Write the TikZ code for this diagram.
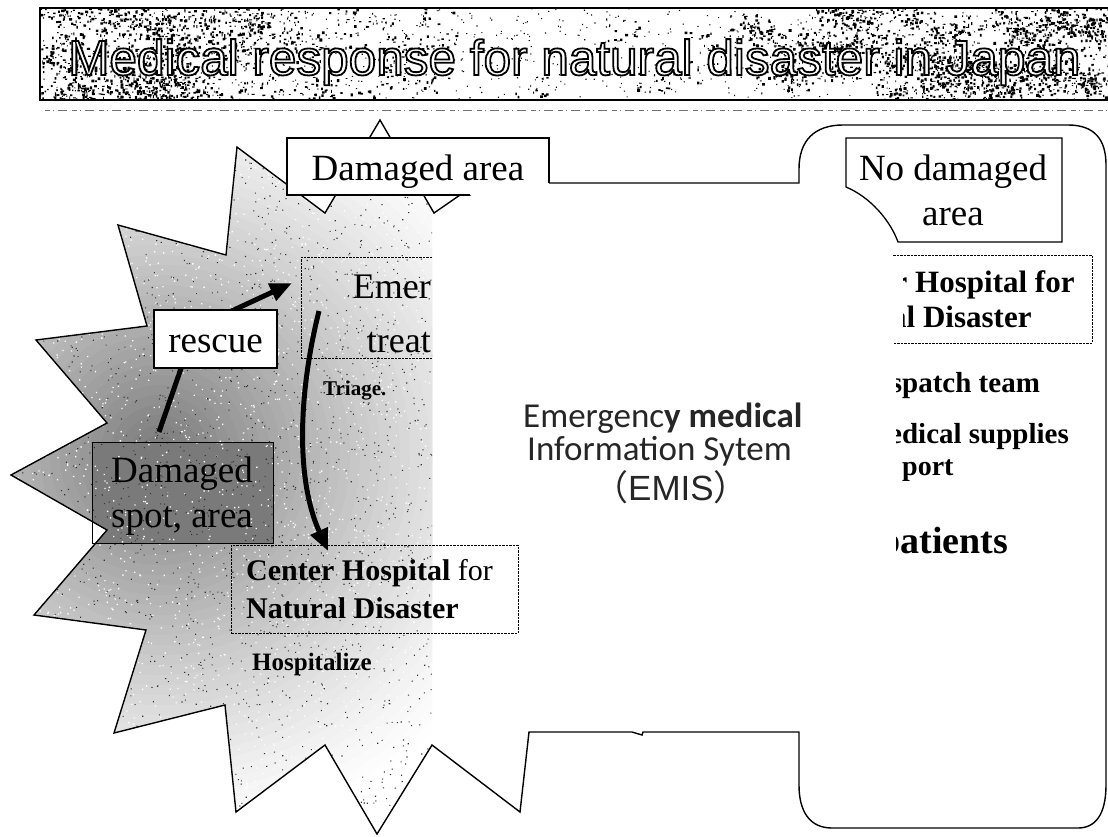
\documentclass[tikz,border=0pt]{standalone}
\usepackage{fontspec}
\setmainfont{Liberation Serif}
\newfontfamily\headfont[FakeBold=3.6]{Liberation Sans}
\newfontfamily\plainsans{Liberation Sans}
\newfontfamily\emisfont{Carlito}
\newfontfamily\cjkfont{Noto Sans CJK JP}
\usetikzlibrary{arrows.meta}

\tikzset{
  labelbox/.style={draw=black, line width=1.3pt, fill=white},
  bigtext/.style={font=\fontsize{37}{44}\selectfont, inner sep=0pt},
  dotbox/.style={draw=black, line width=0.9pt, dash pattern=on 2.5pt off 1pt},
  boldtext/.style={font=\bfseries\fontsize{#1}{#1}\selectfont, inner sep=0pt},
  flowarrow/.style={line width=5pt, -{Triangle[length=22pt,width=18pt]}},
  outline/.style={line width=1.4pt, line join=miter},
  emistext/.style={font=\emisfont\fontsize{35}{38}\selectfont, inner sep=0pt, text=black!85},
}

% outline of the burst, from the notch under the label round to the bottom line
\def\burstpath{(460,195) -- (434,213) -- (380,120) -- (325,213) -- (237,147)
  -- (226,255) -- (118,225) -- (147,326) -- (36,340) -- (107,423) -- (11,475)
  -- (107,530) -- (34,615) -- (146,630) -- (114,733) -- (225,705) -- (236,812)
  -- (325,745) -- (377,834) -- (432,745) -- (520,812) -- (529,732)}

\begin{document}
\begin{tikzpicture}[x=1pt,y=-1pt]
\useasboundingbox (0,0) rectangle (1108,836);

% ---------- title banner with grunge texture ----------
\begin{scope}
  \clip (40,8) rectangle (1108,100);
  \pgfmathsetseed{42}
  \foreach \cl in {1,...,230}{
    \pgfmathsetmacro{\rv}{rand}
    \pgfmathsetmacro{\cx}{574+534*((\rv<0)?-1:1)*abs(\rv)^0.4}
    \pgfmathsetmacro{\cy}{8+92*rnd}
    \fill[black] \foreach \j in {1,...,16}{
      ({\cx+17*rand},{\cy+11*rand}) rectangle ++({0.8+2.2*rnd},{0.8+2.2*rnd}) };
  }
  \foreach \ch in {1,...,8}{
    \fill[black] \foreach \j in {1,...,90}{
      ({40+1068*rnd},{8+92*rnd}) rectangle ++(1.1,1.1) };
  }
\end{scope}
\draw[line width=1.8pt] (1108,8) -- (40,8) -- (40,100) -- (1108,100);
% white letters with a black stroke (fill colour white, stroke colour black)
\node[anchor=base west, inner sep=0pt] (title) at (68,75)
  {\special{pdf:bcolor [1] [0]}\headfont\fontsize{49.5}{50}\selectfont
   Medical response for natural disaster in Japan\special{pdf:ecolor}};
\draw[black!55, line width=0.8pt,
      dash pattern=on 5pt off 3pt on 1pt off 4pt on 9pt off 5pt] (45,110) -- (1108,110);

% ---------- dusty fill of the damaged area ----------
\begin{scope}
  \clip (0,110) rectangle (432,836);
  \clip \burstpath -- (529,195) -- cycle;
  \foreach \k in {1,...,39}{
    \pgfmathsetmacro{\rad}{400-10*\k}
    \pgfmathsetmacro{\dk}{54*(1-\rad/400)^1.3}
    \fill[black!\dk] (160,455) circle[radius=\rad pt];
  }
  \fill[black!52] (92,442) rectangle (273,543);
  \pgfmathsetseed{11}
  \foreach \ch in {1,...,22}{
    \fill[white] \foreach \j in {1,...,100}{
      ({432*rnd},{120+716*rnd}) rectangle ++(1.3,1.3) };
  }
  \foreach \ch in {1,...,22}{
    \fill[black!80] \foreach \j in {1,...,100}{
      ({432*rnd},{120+716*rnd}) rectangle ++(1.1,1.1) };
  }
\end{scope}

% damaged spot box
\node[draw=black, line width=1pt, minimum width=181pt, minimum height=101pt,
      anchor=north west, inner sep=0pt] (spot) at (92,442) {};

% burst and the rounded outline of the undamaged side, one closed line
\draw[outline] \burstpath -- (632,732) -- (642,735) -- (643,732) -- (799,732)
  -- (799,785) .. controls (799,812) and (810,828) .. (832,828) -- (1078,828)
  .. controls (1095,828) and (1106,815) .. (1106,785) -- (1106,165)
  .. controls (1106,140) and (1095,125) .. (1068,125) -- (843,125)
  .. controls (815,125) and (799,140) .. (799,169) -- (799,183) -- (502,183)
  .. controls (490,183) and (482,190) .. (470,195) -- cycle;

% emergency treatment box, cut off on its right
\coordinate (emerTR) at (432,257);
\coordinate (emerBR) at (432,358);
\draw[dotbox] (emerTR) -- (301,257) -- (301,358) -- (emerBR);

% center hospital box in the damaged area
\node[dotbox, minimum width=287pt, minimum height=88pt, anchor=north west,
      inner sep=0pt] (chl) at (231,545) {};

% center hospital box in the undamaged area, cut off on its left
\coordinate (chrTL) at (893,255);
\coordinate (chrBL) at (893,343);
\draw[dotbox] (chrTL) -- (1092,255) -- (1092,343) -- (chrBL);

% arrows
\coordinate (rescueStart) at (159,432);
\coordinate (rescueBend) at (195,328);
\coordinate (rescueEnd) at (292,283);
\draw[flowarrow] (rescueStart) -- (rescueBend) -- (rescueEnd);
\coordinate (moveStart) at (319,311);
\coordinate (moveEnd) at (328,551);
\draw[flowarrow] (moveStart) .. controls (298,395) and (296,480) .. (moveEnd);

% rescue label
\node[labelbox, minimum width=123pt, minimum height=58pt, inner sep=0pt] (rescue) at (215.5,339) {};
\node[bigtext, anchor=base] (rescuetxt) at (215.5,352) {rescue};

% damaged area label
\fill[white] (287,138) rectangle (549,195);
\draw[line width=1.3pt] (470,195) -- (287,195) -- (287,138) -- (549,138) -- (549,183);
\node[bigtext, anchor=base] (dmgarea) at (418,180) {Damaged area};

% no damaged area label
\draw[labelbox] (846,138) -- (1062,138) -- (1062,242) -- (898,242)
  .. controls (890,220) and (870,197) .. (846,187) -- cycle;
\node[bigtext, anchor=base] (nodmg1) at (953,180) {No damaged};
\node[bigtext, anchor=base] (nodmg2) at (953,225) {area};

% texts of the damaged area
\node[bigtext, anchor=base] (spot1) at (182,482) {Damaged};
\node[bigtext, anchor=base] (spot2) at (182,527) {spot, area};
\node[font=\fontsize{36}{40}\selectfont, inner sep=0pt, anchor=base east] (emer1) at (431,298) {Emer};
\node[font=\fontsize{36}{40}\selectfont, inner sep=0pt, anchor=base east] (emer2) at (431,352) {treat};
\node[boldtext=21, anchor=base west] (triage) at (323,395) {Triage.};
\node[font=\fontsize{30}{34}\selectfont, inner sep=0pt, anchor=base west] (chl1) at (246,580) {\textbf{Center Hospital} for};
\node[boldtext=30, anchor=base west] (chl2) at (246,618) {Natural Disaster};
\node[boldtext=25, anchor=base west] (hosp) at (252,670) {Hospitalize};

% EMIS
\node[emistext, anchor=base west] (emis1) at (523,427) {Emergenc\textbf{y medical}};
\node[emistext, anchor=base west] (emis2) at (527,460) {Information Sytem};
\node[inner sep=0pt, anchor=base west, text=black!85] (emis3) at (593,500)
  {\fontsize{35}{38}\selectfont\cjkfont（\plainsans EMIS\cjkfont）};

% texts of the undamaged area, partly hidden on their left
\begin{scope}
  \clip (903,250) rectangle (1100,345);
  \node[boldtext=31, anchor=base west] (chr1) at (893.5,292) {r Hospital for};
  \node[boldtext=31, anchor=base west] (chr2) at (891,327) {al Disaster};
\end{scope}
\begin{scope}
  \clip (896,350) rectangle (1100,600);
  \node[boldtext=29, anchor=base west] (dmat) at (890.7,392) {spatch team};
  \node[boldtext=29, anchor=base west] (supply) at (889,443) {edical supplies};
  \node[boldtext=28, anchor=base west] (transport) at (902,475) {port};
  \node[boldtext=38, anchor=base west] (patients) at (879.4,553) {patients};
\end{scope}
\end{tikzpicture}
\end{document}
